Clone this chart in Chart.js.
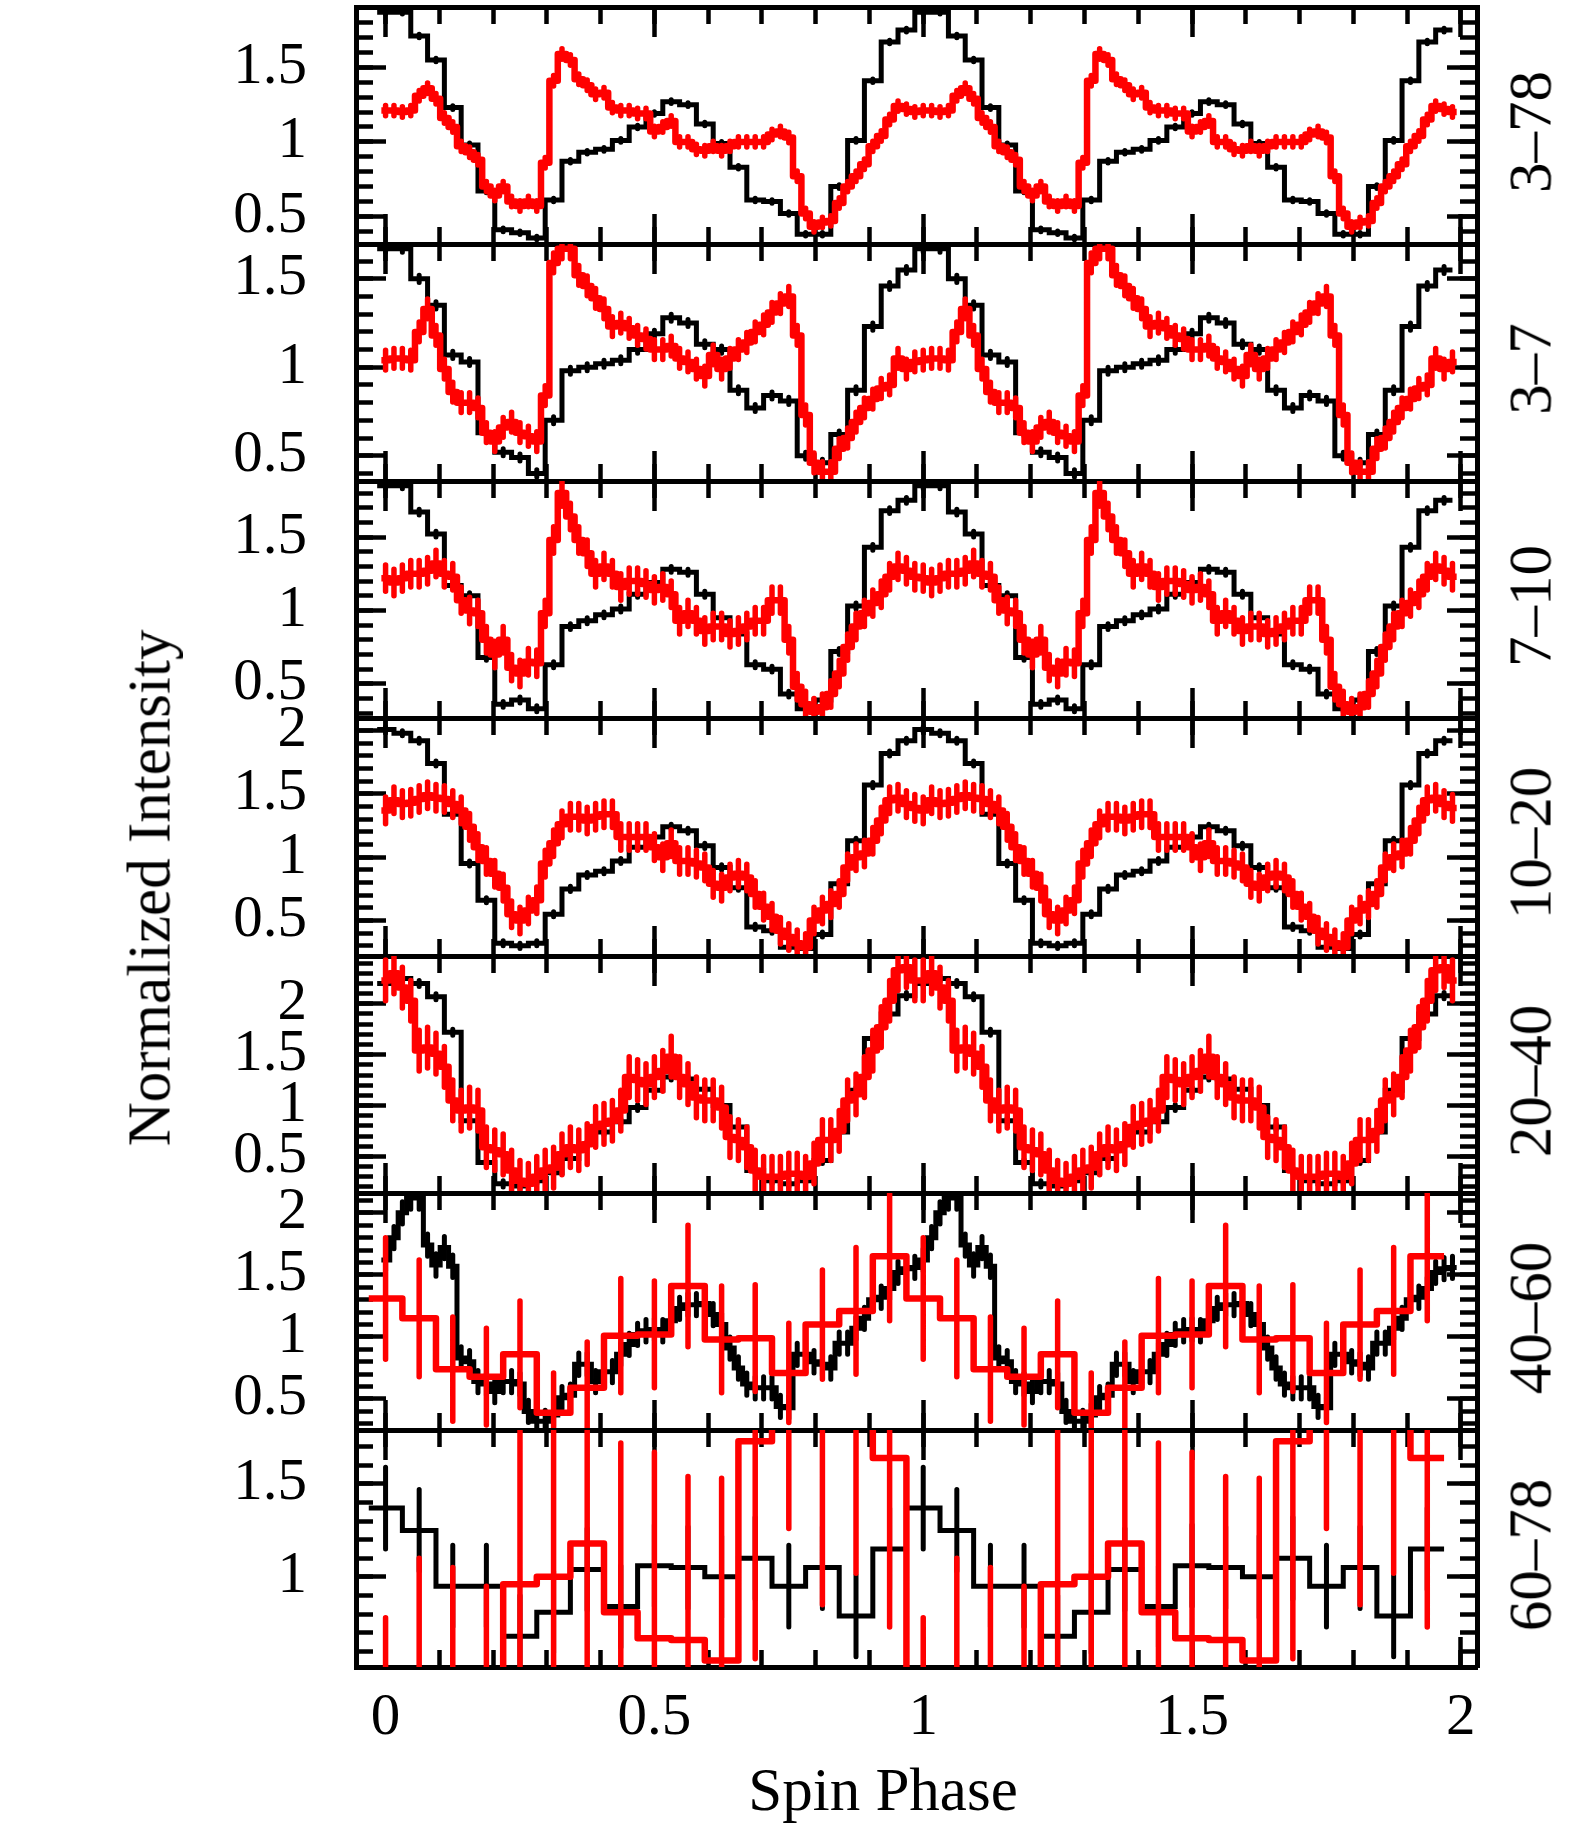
<!DOCTYPE html>
<html><head><meta charset="utf-8">
<script src="https://cdn.jsdelivr.net/npm/chart.js"></script>
<style>
html,body{margin:0;padding:0;background:#fff;}
body{width:1578px;height:1825px;position:relative;overflow:hidden;}
canvas{position:absolute;left:0;}
.lab{position:absolute;font-family:'Liberation Serif','Times New Roman',serif;font-size:61px;color:#000;white-space:nowrap;line-height:1;}
.rot{transform:translate(-50%,-50%) rotate(-90deg);}
.hor{transform:translate(-50%,-50%);}
</style></head><body>
<script>
// ---------------- data (one spin cycle per array) ----------------
const bandLabels = ['3–78','3–7','7–10','10–20','20–40','40–60','60–78'];
const yMin = [0.315,0.357,0.267,0.22,0.14,0.25,0.515];
const yMax = [1.905,1.697,1.882,2.10,2.47,2.16,1.79];
const xMin = -0.055, xMax = 2.03;
const xLabel = 'Spin Phase';
const yLabel = 'Normalized Intensity';

const black_3_78 = [1.87,1.87,1.71,1.55,1.23,0.98,0.67,0.41,0.39,0.355,0.61,0.87,0.93,0.95,1.01,1.10,1.19,1.27,1.25,1.12,0.99,0.83,0.61,0.60,0.52,0.38,0.38,0.70,1.01,1.41,1.67,1.75];
const red_3_78 = [1.21,1.21,1.20,1.21,1.31,1.36,1.29,1.16,1.10,0.97,0.93,0.88,0.70,0.64,0.70,0.60,0.57,0.60,0.57,0.86,1.41,1.59,1.55,1.42,1.38,1.32,1.33,1.23,1.21,1.21,1.19,1.19,1.07,1.10,1.14,1.00,1.00,0.95,0.94,0.97,0.94,0.97,1.00,1.00,1.00,1.00,1.05,1.07,1.03,0.77,0.52,0.43,0.46,0.47,0.59,0.70,0.77,0.85,0.97,1.04,1.15,1.24,1.22,1.20];

const black_3_7 = [1.67,1.67,1.50,1.35,1.07,1.03,0.63,0.52,0.49,0.40,0.70,0.98,1.00,1.02,1.04,1.10,1.19,1.28,1.25,1.13,1.10,0.87,0.77,0.84,0.81,0.50,0.46,0.62,0.87,1.23,1.46,1.55];
const red_3_7 = [1.04,1.05,1.05,1.04,1.20,1.33,1.18,0.99,0.86,0.80,0.80,0.77,0.63,0.58,0.66,0.69,0.63,0.61,0.58,0.84,1.59,1.67,1.67,1.52,1.46,1.39,1.33,1.23,1.25,1.22,1.18,1.16,1.10,1.10,1.12,1.05,1.03,0.99,0.95,1.07,0.99,1.05,1.10,1.14,1.20,1.24,1.31,1.36,1.40,1.18,0.73,0.46,0.41,0.41,0.54,0.60,0.69,0.77,0.82,0.88,0.90,1.05,0.99,1.03];

const black_7_10 = [1.85,1.85,1.67,1.52,1.17,1.10,0.68,0.36,0.39,0.33,0.63,0.89,0.93,0.97,1.01,1.11,1.19,1.28,1.26,1.11,0.95,0.84,0.63,0.60,0.43,0.33,0.39,0.72,1.03,1.43,1.68,1.75];
const red_7_10 = [1.22,1.19,1.22,1.25,1.25,1.27,1.32,1.25,1.23,1.07,1.00,0.98,0.80,0.70,0.80,0.61,0.57,0.65,0.64,0.98,1.48,1.80,1.64,1.48,1.39,1.25,1.30,1.25,1.16,1.20,1.20,1.18,1.14,1.16,1.11,0.93,0.98,0.93,0.86,0.89,0.89,0.84,0.86,0.89,0.93,0.93,1.07,1.07,0.80,0.48,0.36,0.31,0.34,0.43,0.57,0.75,0.89,0.98,1.05,1.11,1.23,1.30,1.27,1.23];

const black_10_20 = [2.01,1.98,1.92,1.74,1.34,0.95,0.66,0.32,0.30,0.32,0.55,0.75,0.86,0.89,0.97,1.08,1.16,1.24,1.21,1.09,0.92,0.76,0.45,0.42,0.29,0.28,0.39,0.79,1.13,1.57,1.82,1.92];
const red_10_20 = [1.37,1.45,1.42,1.43,1.46,1.49,1.47,1.46,1.42,1.37,1.24,1.08,0.97,0.87,0.76,0.55,0.50,0.58,0.66,0.95,1.11,1.26,1.32,1.32,1.29,1.32,1.34,1.34,1.16,1.16,1.16,1.16,1.08,1.00,1.11,0.97,0.97,0.95,0.92,0.79,0.76,0.84,0.87,0.84,0.71,0.61,0.53,0.42,0.37,0.32,0.29,0.50,0.58,0.63,0.71,0.92,1.00,1.03,1.13,1.29,1.45,1.47,1.42,1.39];

const black_20_40 = [2.20,2.25,2.20,2.07,1.72,0.85,0.44,0.23,0.21,0.26,0.34,0.48,0.62,0.74,0.84,0.98,1.15,1.28,1.26,1.16,1.00,0.79,0.36,0.26,0.23,0.26,0.46,0.74,1.15,1.66,1.90,2.08];
const red_20_40 = [2.23,2.30,2.16,2.03,1.54,1.57,1.51,1.38,1.05,0.95,0.98,0.95,0.59,0.56,0.52,0.36,0.26,0.23,0.30,0.36,0.39,0.52,0.59,0.56,0.62,0.79,0.82,0.85,0.95,1.28,1.25,1.21,1.28,1.34,1.48,1.28,1.21,1.08,1.05,1.05,0.98,0.69,0.66,0.59,0.36,0.30,0.30,0.30,0.33,0.33,0.30,0.43,0.66,0.66,0.75,1.05,1.11,1.28,1.54,1.77,2.03,2.33,2.36,2.23];

const black_40_60 = [1.62,1.80,2.00,2.12,2.12,1.74,1.58,1.72,1.57,0.83,0.80,0.64,0.62,0.56,0.64,0.64,0.62,0.40,0.32,0.32,0.37,0.51,0.53,0.78,0.78,0.64,0.72,0.72,0.86,0.94,1.02,1.05,1.06,1.05,1.13,1.23,1.26,1.26,1.27,1.18,1.10,0.91,0.75,0.62,0.59,0.59,0.59,0.44,0.43,0.86,0.86,0.80,0.78,0.75,0.95,0.95,1.07,1.15,1.30,1.32,1.39,1.52,1.55,1.56];
const red_40_60 = [1.31,1.15,0.74,0.68,0.86,0.39,0.59,1.01,1.02,1.41,0.98,0.99,0.71,1.10,1.21,1.65];
const redErr_40_60 = [0.49,0.47,0.42,0.39,0.43,0.32,0.37,0.46,0.43,0.49,0.43,0.43,0.40,0.44,0.51,0.52];

const black_60_78 = [1.37,1.25,0.95,0.95,0.68,0.81,1.04,0.84,1.06,1.05,1.00,1.10,0.95,1.05,0.79,1.15];
const red_60_78 = [-0.17,0.20,0.10,0.00,0.96,1.00,1.18,0.81,0.67,0.66,0.55,1.73,2.20,1.90,2.00,1.64];
const redErr_60_78 = [0.95,0.90,0.95,0.95,0.95,0.95,0.95,0.91,1.00,0.88,0.98,1.17,0.94,1.05,0.98,0.91];

const blackSeries = [black_3_78,black_3_7,black_7_10,black_10_20,black_20_40,black_40_60,black_60_78];
const redSeries = [red_3_78,red_3_7,red_7_10,red_10_20,red_20_40,red_40_60,red_60_78];
const blackErr = [0.012,0.02,0.02,0.02,0.03,0.09,0.22];
const redErr = [0.035,0.056,0.09,0.105,0.2,redErr_40_60,redErr_60_78];

// ---------------- layout / style ----------------
const FONT = "'Liberation Serif','Times New Roman',serif";
const W = 1578, H_TOTAL = 1825, PLOT_L = 356, PLOT_R = 1477, TOP0 = 7, PANEL_H = 237.14, PAD = 130;
const RED = '#ff0000', BLK = '#000000';

Chart.defaults.font.family = FONT;
Chart.defaults.color = '#000';

// full-width histogram bins centred on phase k/n, two spin cycles
function stepPoints(cycle) {
  const n = cycle.length, vals = cycle.concat(cycle);
  const pts = vals.map((v, k) => ({x: (k - 0.5) / n, y: v}));
  pts.push({x: (vals.length - 0.5) / n, y: vals[vals.length - 1]});
  return pts;
}
function errPoints(cycle, err) {
  const n = cycle.length, out = [];
  cycle.concat(cycle).forEach((v, k) => {
    const e = Array.isArray(err) ? err[k % n] : err;
    out.push({x: k / n, y: v - e}, {x: k / n, y: v + e}, {x: k / n, y: null});
  });
  return out;
}
function axis(opts) {
  const {pos, step, len, labels, weight, size, min, max, pad} = opts;
  const horiz = pos === 'top' || pos === 'bottom';
  return {
    type: 'linear', position: pos, min, max, weight,
    ticks: {stepSize: step, includeBounds: false, autoSkip: false, maxTicksLimit: 1000,
      display: !!labels, font: {family: FONT, size: 59}, color: '#000', padding: pad || 0,
      maxRotation: 0, minRotation: 0, callback: v => String(Math.round(v * 1000) / 1000)},
    grid: {display: true, drawOnChartArea: false, drawTicks: true, tickLength: -len, tickWidth: 4.5, tickColor: '#000'},
    border: {display: true, width: 5, color: '#000'},
    afterFit: s => { if (horiz) s.height = size; else s.width = size; }
  };
}

const nP = blackSeries.length;
for (let i = 0; i < nP; i++) {
  const top = Math.round(TOP0 + PANEL_H * i), bot = Math.round(TOP0 + PANEL_H * (i + 1));
  const last = i === nP - 1;
  const padB = last ? H_TOTAL - bot : PAD;
  const cv = document.createElement('canvas');
  cv.width = W; cv.height = bot - top + PAD + padB;
  cv.style.top = (top - PAD) + 'px';
  cv.style.width = W + 'px'; cv.style.height = cv.height + 'px';
  document.body.appendChild(cv);

  const datasets = [
    {data: stepPoints(redSeries[i]), stepped: 'before', borderColor: RED, borderWidth: 6.5, borderJoinStyle: 'round', pointRadius: 0, fill: false, order: 0},
    {data: errPoints(redSeries[i], redErr[i]), borderColor: RED, borderWidth: 5.5, borderCapStyle: 'round', pointRadius: 0, fill: false, spanGaps: false, order: 1},
    {data: stepPoints(blackSeries[i]), stepped: 'before', borderColor: BLK, borderWidth: 5, pointRadius: 0, fill: false, order: 2},
    {data: errPoints(blackSeries[i], blackErr[i]), borderColor: BLK, borderWidth: 5, borderCapStyle: 'round', pointRadius: 0, fill: false, spanGaps: false, order: 3}
  ];
  datasets.forEach(d => { d.xAxisID = 'x'; d.yAxisID = 'y'; });

  new Chart(cv, {
    type: 'line',
    data: {datasets},
    options: {
      responsive: false, animation: false, events: [], devicePixelRatio: 1,
      layout: {padding: 0},
      plugins: {legend: {display: false}, tooltip: {enabled: false}, title: {display: false}},
      scales: {
        x:   axis({pos: 'bottom', step: 0.5, len: 30, labels: last, weight: 1, size: padB, min: xMin, max: xMax, pad: 46}),
        xm:  axis({pos: 'bottom', step: 0.1, len: 17, labels: false, weight: 0, size: 0, min: xMin, max: xMax}),
        xt:  axis({pos: 'top', step: 0.5, len: 30, labels: false, weight: 1, size: PAD, min: xMin, max: xMax}),
        xtm: axis({pos: 'top', step: 0.1, len: 17, labels: false, weight: 0, size: 0, min: xMin, max: xMax}),
        y:   axis({pos: 'left', step: 0.5, len: 30, labels: true, weight: 1, size: PLOT_L, min: yMin[i], max: yMax[i], pad: 79}),
        ym:  axis({pos: 'left', step: 0.1, len: 17, labels: false, weight: 0, size: 0, min: yMin[i], max: yMax[i]}),
        yr:  axis({pos: 'right', step: 0.5, len: 30, labels: false, weight: 1, size: W - PLOT_R, min: yMin[i], max: yMax[i]}),
        yrm: axis({pos: 'right', step: 0.1, len: 17, labels: false, weight: 0, size: 0, min: yMin[i], max: yMax[i]})
      }
    }
  });

  const lab = document.createElement('div');
  lab.className = 'lab rot';
  lab.textContent = bandLabels[i];
  lab.style.left = '1530px';
  lab.style.top = ((top + bot) / 2 + 6) + 'px';
  document.body.appendChild(lab);
}

const yt = document.createElement('div');
yt.className = 'lab rot'; yt.textContent = yLabel;
yt.style.left = '149px'; yt.style.top = '888px';
document.body.appendChild(yt);

const xt = document.createElement('div');
xt.className = 'lab hor'; xt.textContent = xLabel;
xt.style.left = '883px'; xt.style.top = '1789px';
document.body.appendChild(xt);
</script>
</body></html>
